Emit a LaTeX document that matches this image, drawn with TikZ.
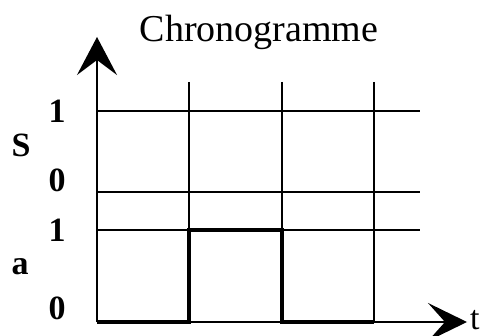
\documentclass[tikz,border=0pt]{standalone}
\usepackage{fontspec}
\setmainfont{Liberation Serif}
\usetikzlibrary{arrows.meta}
\begin{document}
\begin{tikzpicture}[x=1pt,y=-1pt,
  grid/.style={line width=1.5pt,black},
  signal/.style={line width=4.5pt,black,line join=miter},
  lab/.style={font=\fontsize{34}{34}\selectfont\bfseries,inner sep=0pt},
  axisline/.style={line width=1.6pt,black}]
\useasboundingbox (0,0) rectangle (481,336);
% coordinates
\coordinate (O) at (97,322);
\coordinate (Ytip) at (97,37);
\coordinate (Xtip) at (467,322);
\foreach \x/\n in {189/a,282/b,374/c}{
  \coordinate (v\n top) at (\x,82);
  \coordinate (v\n bot) at (\x,322);
}
\coordinate (hS1l) at (97,111); \coordinate (hS1r) at (420,111);
\coordinate (hS0l) at (97,192); \coordinate (hS0r) at (420,192);
\coordinate (ha1l) at (97,230); \coordinate (ha1r) at (420,230);
% grid
\draw[grid] (hS1l) -- (hS1r);
\draw[grid] (hS0l) -- (hS0r);
\draw[grid] (ha1l) -- (ha1r);
\draw[grid] (vatop) -- (vabot);
\draw[grid] (vbtop) -- (vbbot);
\draw[grid] (vctop) -- (vcbot);
% axes
\draw[axisline,-{Stealth[length=38pt,width=40pt,inset=15pt]}] (O) -- (Ytip);
\draw[axisline,-{Stealth[length=39pt,width=38pt,inset=17pt]}] (O) -- (Xtip);
% signal
\coordinate (s1) at (189,230); \coordinate (s2) at (282,230);
\draw[signal] (O) -- (vabot) -- (s1) -- (s2) -- (vbbot) -- (vcbot);
% labels
\node[font=\fontsize{38}{38}\selectfont,anchor=base,inner sep=0pt] (title) at (259,42) {Chronogramme};
\node[lab] (l1) at (57,111) {1};
\node[lab] (lS) at (21,145) {S};
\node[lab] (l0) at (57,180) {0};
\node[lab] (l1a) at (57,230) {1};
\node[lab] (la) at (20,267) {a};
\node[lab] (l0a) at (57,308) {0};
\node[lab,anchor=west,font=\fontsize{34}{34}\selectfont] (t) at (470,320) {t};
\end{tikzpicture}
\end{document}
